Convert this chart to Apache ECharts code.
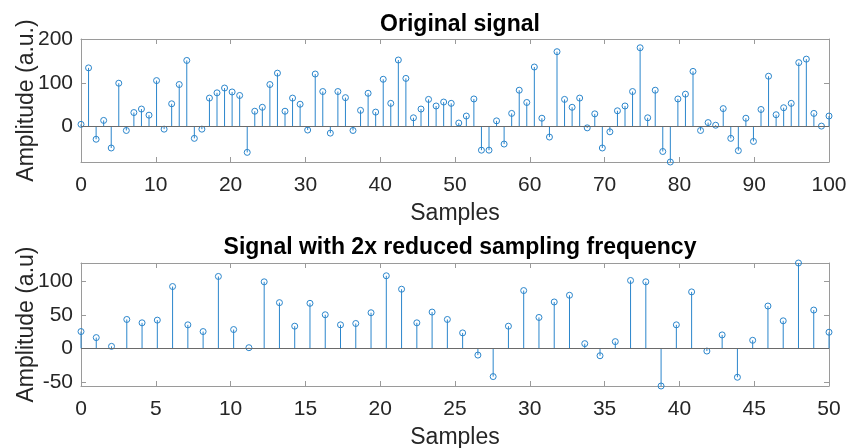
<!DOCTYPE html>
<html>
<head>
<meta charset="utf-8">
<script src="https://cdn.jsdelivr.net/npm/echarts@6/dist/echarts.min.js"></script>
<style>
html,body{margin:0;padding:0;background:#fff;}
#chart{width:848px;height:448px;}
</style>
</head>
<body>
<div id="chart"></div>
<script>
// ---- data ----
const topTitle = 'Original signal';
const bottomTitle = 'Signal with 2x reduced sampling frequency';
const topYName = 'Amplitude (a.u.)';
const bottomYName = 'Amplitude (a.u)';
const xName = 'Samples';

const topSignal = [5,134,-29,14,-49,99,-9,32,40,26,
  105,-6,52,96,151,-27,-6,65,77,88,
  79,71,-59,35,44,96,122,35,65,51,
  -8,120,80,-15,80,66,-9,37,76,33,
  108,53,152,110,20,40,62,47,56,53,
  8,24,63,-54,-54,13,-40,30,83,55,
  136,19,-24,171,62,44,65,-3,29,-49,
  -12,36,47,80,180,20,83,-57,-81,63,
  74,126,-9,9,3,41,-27,-55,19,-34,
  39,115,27,43,53,146,154,30,1,24];

const bottomSignal = [25,16,3,43,38,42,92,35,25,107,
  28,1,99,68,33,67,50,35,37,53,
  108,88,38,54,43,23,-10,-42,33,86,
  46,69,79,7,-11,10,101,99,-56,35,
  84,-4,20,-43,12,63,41,127,57,24];

const topXRange = [0, 100];
const bottomXRange = [0, 50];
const topYRange = [-81, 200];
const bottomYRange = [-56, 127];
const topXTicks = [0,10,20,30,40,50,60,70,80,90,100];
const bottomXTicks = [0,5,10,15,20,25,30,35,40,45,50];
const topYTicks = [0,100,200];
const bottomYTicks = [-50,0,50,100];

// sample positions: evenly spaced over the x range (linspace)
function linspace(a, b, n) {
  const out = [];
  for (let i = 0; i < n; i++) out.push(a + (b - a) * i / (n - 1));
  return out;
}
function pairs(xs, ys) { return ys.map((v, i) => [xs[i], v]); }

const topData = pairs(linspace(topXRange[0], topXRange[1], topSignal.length), topSignal);
const bottomData = pairs(linspace(bottomXRange[0], bottomXRange[1], bottomSignal.length), bottomSignal);

// ---- styles ----
const STEM = '#2b86cc';
const FRAME = '#9a9a9a';
const TXT = '#262626';
const FONT = '"Liberation Sans", Arial, Helvetica, sans-serif';

const grids = [
  {left: 81, right: 19, top: 39, height: 123, containLabel: false, outerBoundsMode: 'none'},
  {left: 81, right: 19, top: 263, height: 123, containLabel: false, outerBoundsMode: 'none'}
];

function xAxes(gi, range, ticks) {
  const base = {
    gridIndex: gi, type: 'value', min: range[0], max: range[1],
    interval: ticks[1] - ticks[0],
    axisLine: {show: true, onZero: false, lineStyle: {color: FRAME, width: 1}},
    axisTick: {show: true, inside: true, length: 5, lineStyle: {color: FRAME, width: 1}},
    splitLine: {show: false}
  };
  return [
    Object.assign({}, base, {
      position: 'bottom',
      axisLabel: {show: true, color: TXT, fontSize: 21, fontFamily: FONT, margin: 13,
        showMinLabel: true, showMaxLabel: true},
      name: xName, nameLocation: 'middle', nameGap: 40, nameMoveOverlap: false,
      nameTextStyle: {color: TXT, fontSize: 23, fontFamily: FONT}
    }),
    Object.assign({}, base, {position: 'top', axisLabel: {show: false}})
  ];
}
function yAxes(gi, range, ticks, name) {
  const base = {
    gridIndex: gi, type: 'value', min: range[0], max: range[1],
    axisLine: {show: true, onZero: false, lineStyle: {color: FRAME, width: 1}},
    axisTick: {show: true, inside: true, length: 5, customValues: ticks,
      lineStyle: {color: FRAME, width: 1}},
    splitLine: {show: false}
  };
  return [
    Object.assign({}, base, {
      position: 'left',
      axisLabel: {show: true, color: TXT, fontSize: 21, fontFamily: FONT, margin: 8,
        customValues: ticks},
      name: name, nameLocation: 'middle', nameGap: 43, nameRotate: 90, nameMoveOverlap: false,
      nameTextStyle: {color: TXT, fontSize: 23, fontFamily: FONT}
    }),
    Object.assign({}, base, {position: 'right', axisLabel: {show: false}})
  ];
}

function stemRender(params, api) {
  const x = api.value(0), y = api.value(1);
  const p0 = api.coord([x, 0]);
  const p1 = api.coord([x, y]);
  return {
    type: 'group',
    children: [
      {type: 'line', shape: {x1: p0[0], y1: p0[1], x2: p1[0], y2: p1[1]},
        style: {stroke: STEM, lineWidth: 1}},
      {type: 'circle', shape: {cx: p1[0], cy: p1[1], r: 3},
        style: {fill: 'none', stroke: STEM, lineWidth: 1}}
    ]
  };
}

function stemSeries(idx, data) {
  return {
    type: 'custom', xAxisIndex: idx * 2, yAxisIndex: idx * 2,
    data: data, renderItem: stemRender, clip: false, silent: true,
    encode: {x: 0, y: 1},
    markLine: {
      silent: true, symbol: 'none', animation: false,
      label: {show: false},
      lineStyle: {color: '#6a6a6a', type: 'solid', width: 1},
      data: [{yAxis: 0}]
    },
    z: 3
  };
}

const chart = echarts.init(document.getElementById('chart'), null, {renderer: 'canvas'});
chart.setOption({
  animation: false,
  backgroundColor: '#ffffff',
  title: [
    {text: topTitle, left: 455, top: 8, textAlign: 'center',
      textStyle: {fontSize: 23, fontWeight: 'bold', color: '#000', fontFamily: FONT}},
    {text: bottomTitle, left: 455, top: 231, textAlign: 'center',
      textStyle: {fontSize: 23, fontWeight: 'bold', color: '#000', fontFamily: FONT}}
  ],
  grid: grids,
  xAxis: [].concat(xAxes(0, topXRange, topXTicks), xAxes(1, bottomXRange, bottomXTicks)),
  yAxis: [].concat(yAxes(0, topYRange, topYTicks, topYName), yAxes(1, bottomYRange, bottomYTicks, bottomYName)),
  series: [stemSeries(0, topData), stemSeries(1, bottomData)]
});
</script>
</body>
</html>
